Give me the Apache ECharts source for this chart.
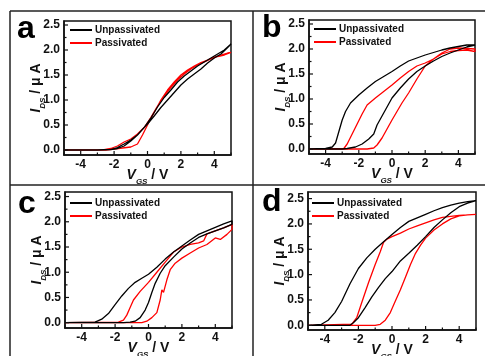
<!DOCTYPE html>
<html>
<head>
<meta charset="utf-8">
<script src="https://cdn.jsdelivr.net/npm/echarts@6/dist/echarts.min.js"></script>
<style>
  html, body { margin: 0; padding: 0; background: #fff; }
  #chart { width: 487px; height: 356px; }
</style>
</head>
<body>
<div id="chart"></div>
<script>
// Transfer curves, each a loop: forward sweep then reverse sweep, [V_GS, I_DS]
const aUnpassivated = [[-5,0],[-3,0],[-2.2,0.01],[-1.8,0.03],[-1.4,0.08],[-1,0.18],[-0.6,0.3],[-0.2,0.45],[0,0.52],[0.4,0.68],[0.8,0.85],[1.2,1.0],[1.6,1.15],[2,1.3],[2.4,1.42],[2.8,1.52],[3.2,1.62],[3.6,1.74],[4,1.84],[4.4,1.92],[4.8,2.05],[5,2.12],
  [4.6,2.0],[4.2,1.92],[3.8,1.84],[3.4,1.76],[3,1.68],[2.6,1.58],[2.2,1.48],[1.8,1.36],[1.4,1.2],[1,1.05],[0.6,0.86],[0.2,0.64],[-0.2,0.45],[-0.6,0.3],[-1,0.2],[-1.4,0.12],[-1.8,0.05],[-2.2,0.01],[-3,0],[-5,0]];
const aPassivated = [[-5,0],[-2.5,0],[-2,0.02],[-1.5,0.04],[-1,0.06],[-0.6,0.12],[-0.3,0.3],[0,0.5],[0.4,0.75],[0.8,1.0],[1.2,1.2],[1.6,1.36],[2,1.5],[2.4,1.6],[2.8,1.68],[3.2,1.75],[3.6,1.8],[4,1.86],[4.4,1.9],[4.8,1.94],[5,1.95],
  [5,1.92],[4.6,1.9],[4.2,1.87],[3.8,1.82],[3.4,1.76],[3,1.7],[2.6,1.62],[2.2,1.52],[1.8,1.4],[1.4,1.25],[1,1.08],[0.6,0.88],[0.2,0.65],[-0.2,0.45],[-0.6,0.32],[-1,0.22],[-1.4,0.16],[-1.8,0.08],[-2.2,0.03],[-2.6,0.005],[-5,0]];

const bUnpassivated = [[-5,0],[-3,0],[-2.7,0.01],[-2.2,0.04],[-1.8,0.1],[-1.4,0.2],[-1.1,0.3],[-0.9,0.48],[-0.7,0.6],[-0.5,0.72],[-0.2,0.9],[0,1.02],[0.5,1.22],[1,1.4],[1.5,1.55],[2,1.66],[2.5,1.76],[3,1.85],[3.5,1.92],[4,1.98],[4.5,2.04],[5,2.08],
  [5,2.12],[4.5,2.08],[4,2.05],[3.5,2.02],[3,1.98],[2.5,1.93],[2,1.88],[1.5,1.82],[1,1.76],[0.5,1.66],[0,1.55],[-0.5,1.45],[-1,1.35],[-1.5,1.22],[-2,1.08],[-2.5,0.92],[-2.8,0.75],[-3,0.58],[-3.2,0.35],[-3.4,0.12],[-3.6,0.04],[-4,0.01],[-5,0]];
const bPassivated = [[-5,0],[-1.5,0],[-1.1,0.02],[-0.9,0.08],[-0.6,0.22],[-0.3,0.4],[0,0.58],[0.3,0.75],[0.6,0.92],[1,1.12],[1.5,1.4],[2,1.66],[2.5,1.8],[3,1.9],[3.5,1.95],[4,1.97],[4.5,1.98],[5,1.95],
  [5,2.0],[4.5,2.01],[4,2.02],[3.5,2.0],[3,1.92],[2.5,1.8],[2,1.72],[1.5,1.66],[1,1.55],[0.5,1.42],[0,1.28],[-0.5,1.15],[-1,1.02],[-1.5,0.88],[-1.8,0.7],[-2.1,0.5],[-2.4,0.3],[-2.7,0.1],[-2.9,0.01],[-5,0]];

const cUnpassivated = [[-5,0],[-1.5,0],[-1.1,0.01],[-0.8,0.03],[-0.5,0.1],[-0.2,0.25],[0,0.4],[0.2,0.6],[0.4,0.78],[0.7,0.98],[1,1.13],[1.5,1.3],[2,1.46],[2.5,1.58],[3,1.69],[3.5,1.76],[4,1.82],[4.5,1.88],[5,1.95],
  [5,2.02],[4.5,1.96],[4,1.89],[3.5,1.82],[3,1.75],[2.5,1.64],[2,1.52],[1.5,1.4],[1,1.26],[0.5,1.1],[0,0.96],[-0.4,0.88],[-0.8,0.8],[-1.2,0.68],[-1.6,0.53],[-2,0.36],[-2.4,0.18],[-2.8,0.07],[-3.2,0.01],[-5,0]];
const cPassivated = [[-5,0],[-0.4,0],[-0.1,0.03],[0.2,0.1],[0.5,0.2],[0.7,0.45],[0.8,0.65],[0.9,0.6],[1.1,0.85],[1.3,1.05],[1.6,1.18],[2,1.28],[2.5,1.38],[3,1.48],[3.5,1.55],[4,1.68],[4.3,1.65],[4.7,1.75],[5,1.85],
  [5,1.95],[4.5,1.88],[4,1.82],[3.5,1.76],[3.3,1.62],[3,1.58],[2.5,1.55],[2,1.5],[1.5,1.4],[1,1.2],[0.5,1.0],[0,0.8],[-0.5,0.62],[-0.9,0.45],[-1.1,0.3],[-1.3,0.15],[-1.5,0.05],[-1.8,0.01],[-5,0]];

const dUnpassivated = [[-5,0],[-2.5,0],[-2.3,0.05],[-2,0.15],[-1.6,0.35],[-1.2,0.56],[-0.8,0.75],[-0.4,0.92],[0,1.06],[0.5,1.27],[1,1.42],[1.5,1.58],[2,1.75],[2.5,1.93],[3,2.08],[3.5,2.22],[4,2.34],[4.5,2.41],[5,2.46],
  [5,2.48],[4.5,2.44],[4,2.41],[3.5,2.37],[3,2.32],[2.5,2.26],[2,2.19],[1.5,2.12],[1,2.05],[0.5,1.93],[0,1.79],[-0.5,1.65],[-1,1.5],[-1.5,1.33],[-2,1.12],[-2.5,0.82],[-3,0.47],[-3.4,0.25],[-3.8,0.1],[-4.2,0.02],[-5,0]];
const dPassivated = [[-5,0],[-1,0],[-0.7,0.02],[-0.4,0.1],[-0.1,0.25],[0.2,0.48],[0.5,0.7],[0.8,0.95],[1.1,1.2],[1.4,1.42],[1.7,1.58],[2,1.72],[2.5,1.88],[3,2.0],[3.5,2.1],[4,2.16],[4.5,2.18],[5,2.19],
  [5,2.19],[4.5,2.18],[4,2.17],[3,2.13],[2.5,2.08],[2,2.02],[1.5,1.96],[1,1.9],[0.5,1.82],[0,1.75],[-0.3,1.7],[-0.5,1.64],[-0.7,1.45],[-1,1.2],[-1.4,0.84],[-1.8,0.45],[-2.1,0.15],[-2.4,0.02],[-5,0]];

const panelLetters = ["a", "b", "c", "d"];
const seriesNames = ["Unpassivated", "Passivated"];
const xLabelValues = [-4, -2, 0, 2, 4];
const xMinorValues = [-5, -3, -1, 1, 3, 5];
const yLabelValues = [0, 0.5, 1, 1.5, 2, 2.5];
const yMinorValues = [0.25, 0.75, 1.25, 1.75, 2.25];

const panelData = [
  [aUnpassivated, aPassivated],
  [bUnpassivated, bPassivated],
  [cUnpassivated, cPassivated],
  [dUnpassivated, dPassivated],
];

// layout of each panel (pixels) and its y range
const panels = [
  { grid: { left: 64, top: 21, width: 167, height: 134 }, yMin: -0.1, yMax: 2.58, legend: { left: 70, top: 24 }, letter: [17, 38] },
  { grid: { left: 309, top: 20, width: 166, height: 134 }, yMin: -0.1, yMax: 2.58, legend: { left: 314, top: 23 }, letter: [262, 37] },
  { grid: { left: 65, top: 192, width: 167, height: 136 }, yMin: -0.105, yMax: 2.59, legend: { left: 70, top: 197 }, letter: [18, 213] },
  { grid: { left: 308, top: 192, width: 168, height: 138 }, yMin: -0.093, yMax: 2.63, legend: { left: 312, top: 197 }, letter: [262, 211] },
];

const colors = ["#000000", "#ff0000"];
const FONT = "Liberation Sans, Arial, sans-serif";

const nameRich = {
  v: { fontFamily: FONT, fontWeight: "bold", fontStyle: "italic", fontSize: 14, color: "#111" },
  s: { fontFamily: FONT, fontWeight: "bold", fontStyle: "italic", fontSize: 8, color: "#111", padding: [14, 0, 0, 0] },
  t: { fontFamily: FONT, fontWeight: "bold", fontSize: 14, color: "#111" },
};
const edge = { show: true, onZero: false, lineStyle: { color: "#111", width: 1.5 } };

// inward tick marks along bottom and left edges, placed through the axis scales
function tickSeries(i, p) {
  return {
    type: "custom", xAxisIndex: i, yAxisIndex: i, silent: true, clip: false, z: 6,
    data: [[0, 0]],
    renderItem: (params, api) => {
      const children = [];
      const addX = (vals, len) => vals.forEach((v) => {
        const pt = api.coord([v, p.yMin]);
        children.push({ type: "line", shape: { x1: pt[0], y1: pt[1], x2: pt[0], y2: pt[1] - len },
          style: { stroke: "#111", lineWidth: 1.2 } });
      });
      const addY = (vals, len) => vals.forEach((v) => {
        const pt = api.coord([-5, v]);
        children.push({ type: "line", shape: { x1: pt[0], y1: pt[1], x2: pt[0] + len, y2: pt[1] },
          style: { stroke: "#111", lineWidth: 1.2 } });
      });
      addX(xLabelValues, 4);
      addX(xMinorValues, 2.5);
      addY(yLabelValues, 4);
      addY(yMinorValues, 2.5);
      return { type: "group", children };
    },
  };
}

const grid = [], xAxis = [], yAxis = [], series = [], legend = [], graphic = [];

panels.forEach((p, i) => {
  grid.push({ ...p.grid, show: true, borderColor: "#111", borderWidth: 1.5, backgroundColor: "transparent",
    containLabel: false, outerBoundsMode: "none" });

  xAxis.push({
    type: "value", gridIndex: i, min: -5, max: 5, position: "bottom",
    axisLine: edge,
    splitLine: { show: false },
    axisTick: { show: false },
    axisLabel: { customValues: xLabelValues, color: "#111", fontFamily: FONT, fontWeight: "bold", fontSize: 12, margin: 4 },
    name: "{v|V}{s|GS}{t| / V}",
    nameLocation: "middle",
    nameGap: 9,
    nameMoveOverlap: false,
    nameTextStyle: { verticalAlign: "top", rich: nameRich },
  });

  yAxis.push({
    type: "value", gridIndex: i, min: p.yMin, max: p.yMax, position: "left",
    axisLine: edge,
    splitLine: { show: false },
    axisTick: { show: false },
    axisLabel: { customValues: yLabelValues, color: "#111", fontFamily: FONT, fontWeight: "bold", fontSize: 12, margin: 4,
      formatter: (v) => v.toFixed(1) },
    name: "{v|I}{s|DS}{t| / μ A}",
    nameLocation: "middle",
    nameGap: 17,
    nameMoveOverlap: false,
    nameTextStyle: { rich: nameRich },
  });

  panelData[i].forEach((d, k) => {
    series.push({
      name: seriesNames[k], type: "line", xAxisIndex: i, yAxisIndex: i,
      data: d, symbol: "none", smooth: false,
      lineStyle: { color: colors[k], width: 1.3 }, itemStyle: { color: colors[k] },
      z: k === 0 ? 3 : 2,
    });
  });
  series.push(tickSeries(i, p));

  legend.push({
    data: seriesNames, orient: "vertical", left: p.legend.left, top: p.legend.top,
    icon: "rect", itemWidth: 22, itemHeight: 2, itemGap: 1, padding: 0,
    selectedMode: false,
    textStyle: { fontFamily: FONT, fontWeight: "bold", fontSize: 10, lineHeight: 12, color: "#111", padding: [0, 0, 0, -2] },
  });

  graphic.push({
    type: "text", left: p.letter[0], top: p.letter[1] - 25,
    style: { text: panelLetters[i], fontFamily: FONT, fontWeight: "bold", fontSize: 32, fill: "#000" },
  });
});

// panel frame lines
const frame = { stroke: "#222", lineWidth: 1.5 };
graphic.push(
  { type: "line", shape: { x1: 10, y1: 11, x2: 485, y2: 11 }, style: frame },
  { type: "line", shape: { x1: 10, y1: 11, x2: 10, y2: 356 }, style: frame },
  { type: "line", shape: { x1: 253, y1: 11, x2: 253, y2: 356 }, style: frame },
  { type: "line", shape: { x1: 10, y1: 185, x2: 485, y2: 185 }, style: frame }
);

const chart = echarts.init(document.getElementById("chart"), null, { renderer: "canvas" });
chart.setOption({
  backgroundColor: "#fff",
  animation: false,
  grid, xAxis, yAxis, series, legend, graphic,
});
</script>
</body>
</html>
